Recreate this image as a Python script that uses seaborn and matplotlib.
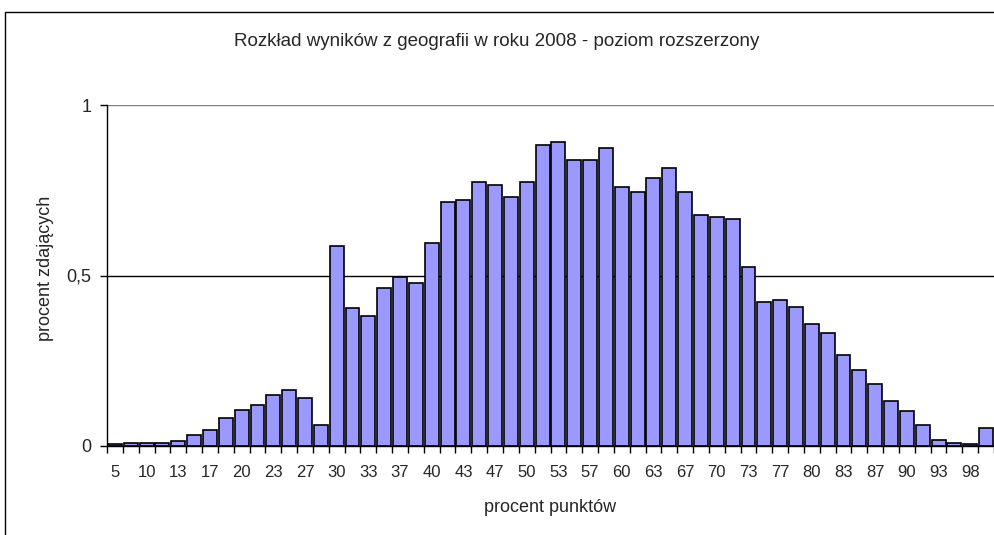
import seaborn as sns
import matplotlib.pyplot as plt
import matplotlib.ticker as mticker
from matplotlib.patches import Rectangle

# procent punktow (kategorie) i procent zdajacych
procent_punktow = ["5", "8", "10", "12", "13", "15", "17", "18", "20", "22",
                   "23", "25", "27", "28", "30", "32", "33", "35", "37", "38",
                   "40", "42", "43", "45", "47", "48", "50", "52", "53", "55",
                   "57", "58", "60", "62", "63", "65", "67", "68", "70", "72",
                   "73", "75", "77", "78", "80", "82", "83", "85", "87", "88",
                   "90", "92", "93", "95", "98", "100"]
procent_zdajacych = [0.005, 0.010, 0.010, 0.010, 0.015, 0.033, 0.048, 0.082, 0.107, 0.121,
                     0.151, 0.165, 0.141, 0.063, 0.586, 0.405, 0.381, 0.464, 0.496, 0.478,
                     0.594, 0.716, 0.721, 0.775, 0.765, 0.731, 0.775, 0.883, 0.892, 0.839,
                     0.839, 0.873, 0.760, 0.746, 0.785, 0.814, 0.746, 0.677, 0.672, 0.667,
                     0.525, 0.423, 0.428, 0.408, 0.359, 0.330, 0.268, 0.222, 0.183, 0.131,
                     0.102, 0.063, 0.019, 0.010, 0.005, 0.053]
# co druga etykieta jest widoczna
widoczne = procent_punktow[::2]

sns.set_style("white")
plt.rcParams["font.family"] = ["Liberation Sans", "DejaVu Sans"]

fig = plt.figure(figsize=(9.94, 5.35), dpi=100)
ax = fig.add_axes([107 / 994, 1 - 446 / 535, 887 / 994, 341 / 535])

sns.barplot(x=procent_punktow, y=procent_zdajacych, color="#9999ff", saturation=1,
            edgecolor="black", linewidth=1.2, width=0.88, ax=ax, zorder=3)

ax.set_xlim(-0.5, len(procent_punktow) - 0.5)
ax.set_ylim(0, 1)

# siatka
for v in [0.5, 1.0]:
    ax.axhline(v, color="black" if v == 0.5 else "#808080", lw=1, zorder=1)

ax.set_yticks([0, 0.5, 1])
ax.set_yticklabels(["0", "0,5", "1"], fontsize=13)
ax.tick_params(axis="y", direction="out", length=5, width=1, color="black", left=True, pad=6)

ax.set_xticks(range(0, len(procent_punktow), 2))
ax.set_xticklabels(widoczne, fontsize=12)
ax.tick_params(axis="x", which="major", length=0, pad=14)
ax.xaxis.set_minor_locator(mticker.FixedLocator([i - 0.5 for i in range(len(procent_punktow) + 1)]))
ax.tick_params(axis="x", which="minor", direction="out", length=5, width=1, color="black", bottom=True)

for s in ["top", "right"]:
    ax.spines[s].set_visible(False)
for s in ["left", "bottom"]:
    ax.spines[s].set_color("black")
    ax.spines[s].set_linewidth(1)
    ax.spines[s].set_zorder(4)

ax.set_xlabel("procent punktów", fontsize=13, va="center")
ax.xaxis.set_label_coords(0.5, (446 - 508) / 341)
ax.set_ylabel("procent zdających", fontsize=13, va="center")
ax.yaxis.set_label_coords((46 - 107) / 887, (446 - 268) / 341)

fig.text(0.5, 1 - 42 / 535, "Rozkład wyników z geografii w roku 2008 - poziom rozszerzony",
         ha="center", va="center", fontsize=13.5)

# ramka wykresu
fig.patches.append(Rectangle((5 / 994, -0.1), 2, 1 - 12 / 535 + 0.1, transform=fig.transFigure,
                             fill=False, edgecolor="black", lw=1))

fig.savefig("out.png", dpi=100)
